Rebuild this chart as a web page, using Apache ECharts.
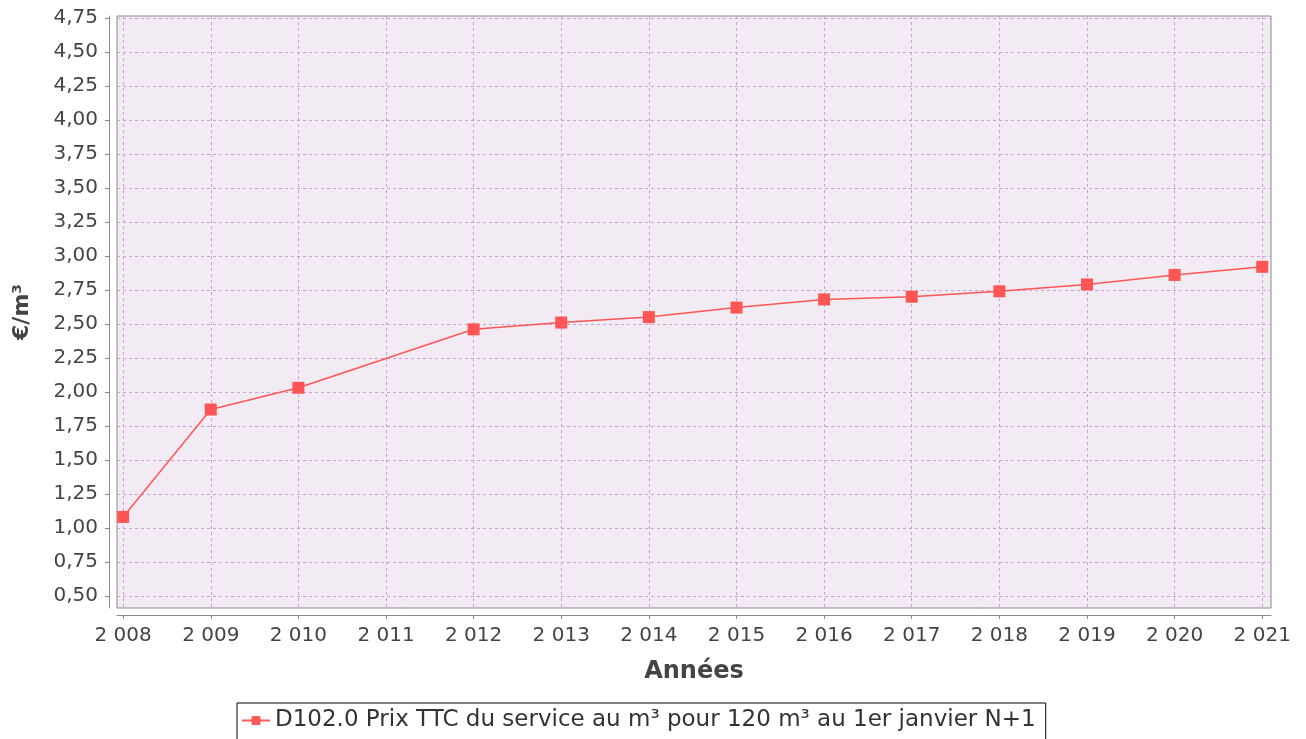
<!DOCTYPE html>
<html><head><meta charset="utf-8">
<script src="https://cdn.jsdelivr.net/npm/echarts@6/dist/echarts.min.js"></script>
<style>html,body{margin:0;padding:0;background:#fff}#c{width:1306px;height:739px}</style>
</head><body><div id="c"></div>
<script>
const years = [2008, 2009, 2010, 2012, 2013, 2014, 2015, 2016, 2017, 2018, 2019, 2020, 2021];
const prices = [1.08, 1.87, 2.03, 2.46, 2.51, 2.55, 2.62, 2.68, 2.70, 2.74, 2.79, 2.86, 2.92];
const xTicks = [2008, 2009, 2010, 2011, 2012, 2013, 2014, 2015, 2016, 2017, 2018, 2019, 2020, 2021];
const yTicks = [0.5, 0.75, 1, 1.25, 1.5, 1.75, 2, 2.25, 2.5, 2.75, 3, 3.25, 3.5, 3.75, 4, 4.25, 4.5, 4.75];
const seriesName = 'D102.0 Prix TTC du service au m³ pour 120 m³ au 1er janvier N+1';

const font = 'DejaVu Sans';
const chart = echarts.init(document.getElementById('c'), null, {renderer: 'canvas'});
const split = {show: true, lineStyle: {color: '#c9a3cc', type: [3, 3], width: 1}};
chart.setOption({
  animation: false,
  textStyle: {fontFamily: font},
  grid: {left: 117, right: 35, top: 16, bottom: 131, show: true, backgroundColor: '#f3ebf3', borderColor: '#8a8a8a', borderWidth: 1},
  xAxis: {
    type: 'value', min: 2007.93, max: 2021.1, offset: 7,
    name: 'Années', nameLocation: 'middle', nameGap: 45,
    nameTextStyle: {fontFamily: font, fontSize: 24, fontWeight: 'bold', color: '#444'},
    axisLine: {show: true, onZero: false, lineStyle: {color: '#8a8a8a', width: 1}},
    axisTick: {show: true, length: 4, lineStyle: {color: '#8a8a8a'}, customValues: xTicks},
    axisLabel: {fontSize: 20, color: '#444', margin: 11, customValues: xTicks,
      formatter: v => { const s = String(Math.round(v)); return s.slice(0, 1) + ' ' + s.slice(1); }},
    splitLine: split
  },
  yAxis: {
    type: 'value', min: 0.41, max: 4.765, offset: 8,
    name: '€/m³', nameLocation: 'middle', nameGap: 76, nameRotate: 90,
    nameTextStyle: {fontFamily: font, fontSize: 22, fontWeight: 'bold', color: '#444'},
    axisLine: {show: true, onZero: false, lineStyle: {color: '#8a8a8a', width: 1}},
    axisTick: {show: true, length: 4, lineStyle: {color: '#8a8a8a'}, customValues: yTicks},
    axisLabel: {fontSize: 20, color: '#444', margin: 11, customValues: yTicks,
      formatter: v => v.toFixed(2).replace('.', ',')},
    splitLine: split
  },
  legend: {
    show: true, top: 703, left: 237,
    borderColor: '#000', borderWidth: 1, padding: [6, 10, 14, 4],
    itemWidth: 28, itemHeight: 11, itemGap: 4,
    textStyle: {fontFamily: font, fontSize: 23, color: '#333'},
    data: [{name: seriesName}]
  },
  series: [{
    name: seriesName, type: 'line',
    data: years.map((y, i) => [y, prices[i]]),
    symbol: 'rect', symbolSize: 12,
    itemStyle: {color: '#ff5555'},
    lineStyle: {color: '#ff5555', width: 1.5}
  }]
});
</script></body></html>
